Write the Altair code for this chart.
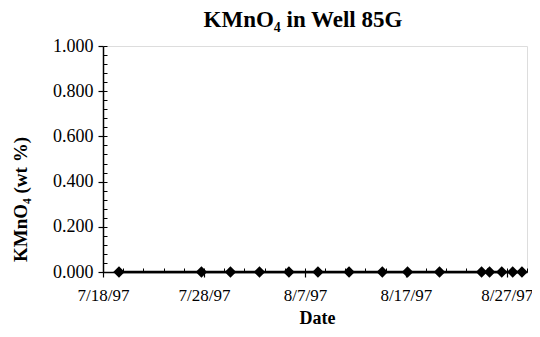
import altair as alt
import pandas as pd

dates = [
    "1997-07-19T14:00", "1997-07-27T18:00", "1997-07-30T15:00", "1997-08-02T12:00",
    "1997-08-05T10:00", "1997-08-08T07:00", "1997-08-11T09:00", "1997-08-14T16:00",
    "1997-08-17T04:00", "1997-08-20T08:00", "1997-08-24T12:00", "1997-08-25T07:00",
    "1997-08-26T12:00", "1997-08-27T14:00", "1997-08-28T12:00",
]
kmno4 = [0.0] * len(dates)

y_major = [0.0, 0.2, 0.4, 0.6, 0.8, 1.0]
y_minor = [round(i * 0.04, 2) for i in range(26)]
x_major_days = [18, 28, 7, 17, 27]
x_major_months = [7, 7, 8, 8, 8]

df = pd.DataFrame({"Date": dates, "KMnO4": kmno4})

serif = "Liberation Serif"

x_major_vals = [alt.DateTime(year=1997, month=m, date=d) for m, d in zip(x_major_months, x_major_days)]
x_minor_vals = []
for k in range(0, 43, 2):
    ts = pd.Timestamp("1997-07-18") + pd.Timedelta(days=k)
    x_minor_vals.append(alt.DateTime(year=ts.year, month=ts.month, date=ts.day))

x_scale = alt.Scale(domain=[alt.DateTime(year=1997, month=7, date=18),
                            alt.DateTime(year=1997, month=8, date=29)], nice=False)
y_scale = alt.Scale(domain=[0, 1], nice=False)

x_axis = alt.Axis(values=x_major_vals, format="%-m/%-d/%y", title="Date",
                  orient="bottom", grid=False, tickSize=5, tickColor="black", tickWidth=1.2,
                  domainColor="black", domainWidth=1.5,
                  labelFont=serif, labelFontSize=17, labelColor="black", labelPadding=10,
                  labelFlush=False,
                  titleFont=serif, titleFontSize=18, titleFontWeight="bold", titleColor="black",
                  titleBaseline="middle", titleY=46, titleX=214, titleAlign="center")
y_axis = alt.Axis(values=y_major, format=".3f", title="KMnO₄ (wt %)",
                  orient="left", grid=False, tickSize=5, tickColor="black", tickWidth=1.2,
                  domainColor="black", domainWidth=1.5,
                  labelFont=serif, labelFontSize=18, labelColor="black", labelPadding=5,
                  titleFont=serif, titleFontSize=19, titleFontWeight="bold", titleColor="black",
                  titleBaseline="middle", titleX=-83, titleY=153, titleAlign="center", titleAngle=-90)

x_minor_axis = alt.Axis(values=x_minor_vals, orient="bottom", labels=False, title=None,
                        domain=False, grid=False, tickSize=4, offset=-4, tickColor="black")
y_minor_axis = alt.Axis(values=y_minor, orient="left", labels=False, title=None,
                        domain=False, grid=False, tickSize=4, offset=-4, tickColor="black")

base = alt.Chart(df)

minor = base.mark_line(opacity=0).encode(
    x=alt.X("Date:T", scale=x_scale, axis=x_minor_axis),
    y=alt.Y("KMnO4:Q", scale=y_scale, axis=y_minor_axis),
)
line = base.mark_line(color="black", strokeWidth=2.5).encode(
    x=alt.X("Date:T", scale=x_scale, axis=x_axis),
    y=alt.Y("KMnO4:Q", scale=y_scale, axis=y_axis),
)
points = base.mark_point(shape="diamond", filled=True, size=130, color="black", opacity=1).encode(
    x=alt.X("Date:T", scale=x_scale, axis=None),
    y=alt.Y("KMnO4:Q", scale=y_scale, axis=None),
)

chart = alt.layer(line, minor, points).resolve_axis(x="independent", y="independent").properties(
    width=424, height=226,
    autosize=alt.AutoSizeParams(type="none"),
    padding={"left": 95, "top": 38, "right": 5, "bottom": 55},
    title=alt.TitleParams("KMnO₄ in Well 85G", font=serif, fontSize=23, fontWeight="bold",
                          color="black", anchor="middle", dx=-12, offset=5),
).configure_view(stroke="black", strokeWidth=1.5).configure(background="white")

chart.save("out.html", embed_options={"renderer": "svg", "actions": False})
